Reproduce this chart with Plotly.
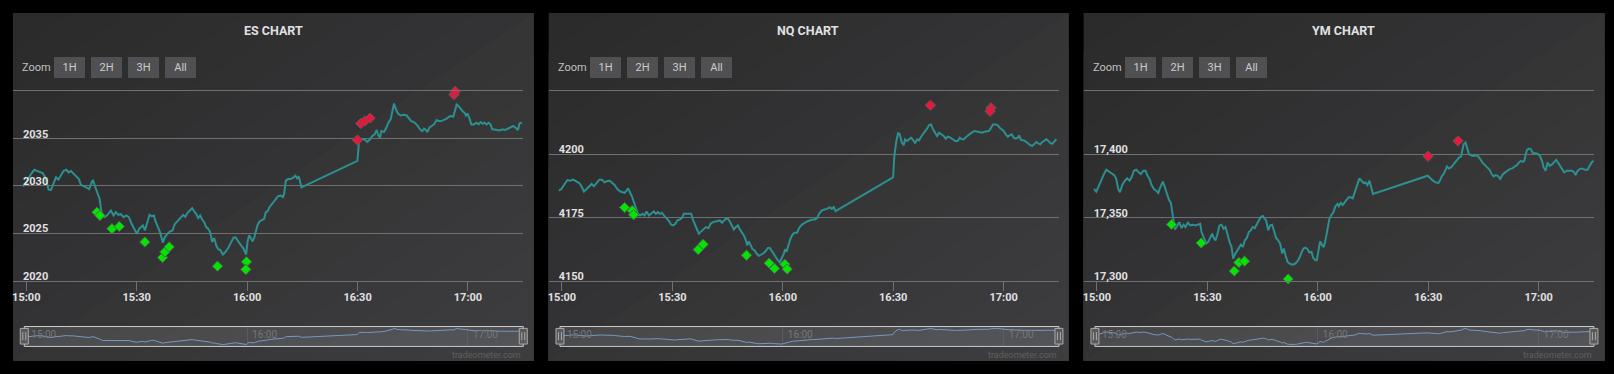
import pandas as pd
import plotly.graph_objects as go

# ---------------------------------------------------------------- data
BASE = pd.Timestamp("2015-03-20 15:00:00")   # minutes below are offsets from 15:00

titles = ["ES CHART", "NQ CHART", "YM CHART"]
zoom_buttons = ["1H", "2H", "3H", "All"]
credit_text = "tradeometer.com"

es_minutes = [
    -0.90, -0.08, 1.28, 2.18, 3.09, 4.44, 5.17, 6.07, 6.70, 7.43,
    8.07, 8.70, 9.42, 10.14, 10.87, 11.50, 12.14, 12.86, 13.58, 14.30,
    14.85, 15.75, 16.48, 17.11, 17.57, 18.11, 18.68, 19.38, 19.92, 20.28,
    20.74, 21.37, 22.09, 22.99, 23.72, 24.35, 24.98, 25.70, 26.43, 27.15,
    27.87, 28.60, 29.33, 30.05, 30.69, 31.14, 31.68, 32.23, 32.95, 33.49,
    34.04, 34.67, 35.12, 35.67, 36.39, 37.11, 37.65, 38.38, 39.10, 39.74,
    40.37, 41.28, 42.00, 42.64, 43.18, 43.81, 44.45, 45.08, 45.62, 46.16,
    46.71, 47.25, 47.79, 48.34, 48.88, 49.42, 49.97, 50.51, 51.05, 51.59,
    52.13, 52.68, 53.40, 54.12, 54.85, 55.57, 56.29, 56.84, 57.38, 57.92,
    58.47, 59.01, 59.46, 59.73, 60.10, 60.55, 61.00, 61.46, 61.91, 62.36,
    62.81, 63.36, 63.90, 64.62, 65.08, 65.53, 66.07, 66.61, 67.16, 67.70,
    68.42, 69.15, 69.69, 70.05, 70.51, 71.14, 71.86, 72.59, 73.13, 73.58,
    74.03, 74.76,
    89.96, 90.41, 90.86, 91.77, 92.67, 93.39, 94.02, 94.65, 95.20, 95.65,
    96.10, 96.47, 97.19, 97.82, 98.46, 99.00, 99.45, 99.91, 100.45, 100.99,
    101.72, 102.62, 103.35, 103.89, 104.61, 105.33, 106.24, 106.96, 107.59, 108.05,
    108.59, 108.95, 109.50, 110.13, 110.76, 111.49, 112.03, 112.75, 113.48, 114.20,
    114.84, 115.47, 116.01, 116.38, 116.92, 117.46, 118.01, 118.55, 119.09, 119.45,
    119.82, 120.36, 120.90, 121.62, 122.35, 122.89, 123.43, 123.98, 124.52, 125.06,
    125.61, 126.15, 126.60, 127.24, 127.96, 128.69, 129.41, 130.13, 130.86, 131.58,
    132.30, 132.94, 133.57, 134.02, 134.65,
]
es_prices = [
    2029.94, 2030.29, 2031.23, 2031.69, 2031.55, 2031.34, 2030.88, 2029.59, 2029.56, 2030.19,
    2030.89, 2030.64, 2031.06, 2031.58, 2031.69, 2031.41, 2031.55, 2031.31, 2030.99, 2030.71,
    2030.08, 2029.94, 2029.80, 2029.66, 2030.19, 2030.61, 2029.94, 2029.14, 2028.62, 2027.57,
    2026.70, 2026.70, 2026.94, 2027.40, 2026.87, 2027.22, 2026.94, 2027.01, 2026.70, 2026.87,
    2026.70, 2026.00, 2025.41, 2024.95, 2025.48, 2025.65, 2025.82, 2025.30, 2026.10, 2026.94,
    2026.80, 2026.87, 2026.24, 2025.65, 2025.06, 2024.01, 2024.60, 2024.95, 2025.20, 2025.30,
    2026.00, 2026.35, 2026.73, 2026.94, 2026.73, 2027.15, 2027.40, 2027.64, 2027.29, 2027.05,
    2026.59, 2026.87, 2026.45, 2026.17, 2025.65, 2025.48, 2025.13, 2024.08, 2024.50, 2023.73,
    2023.31, 2023.24, 2022.75, 2023.03, 2023.45, 2023.94, 2024.54, 2024.57, 2024.22, 2024.01,
    2023.66, 2023.38, 2023.03, 2022.75, 2024.08, 2024.78, 2024.50, 2024.15, 2024.50, 2025.13,
    2025.83, 2026.24, 2026.35, 2026.52, 2027.22, 2027.29, 2027.75, 2028.00, 2028.20, 2028.55,
    2028.90, 2028.97, 2028.80, 2029.14, 2030.54, 2030.71, 2030.71, 2030.89, 2031.06, 2030.78,
    2030.99, 2029.84,
    2032.63, 2034.72, 2034.90, 2034.90, 2034.62, 2034.90, 2035.25, 2035.43, 2035.88, 2035.32,
    2035.08, 2035.77, 2035.67, 2036.12, 2036.72, 2037.00, 2037.86, 2038.67, 2038.04, 2037.62,
    2037.41, 2037.48, 2037.41, 2037.17, 2036.82, 2036.72, 2036.37, 2035.95, 2035.77, 2036.02,
    2035.88, 2035.67, 2036.12, 2036.30, 2036.47, 2036.93, 2036.82, 2036.82, 2036.93, 2037.07,
    2037.28, 2037.35, 2037.28, 2037.86, 2038.57, 2038.39, 2038.11, 2037.86, 2037.69, 2037.41,
    2037.62, 2037.17, 2036.47, 2036.47, 2036.65, 2036.47, 2036.72, 2036.54, 2036.65, 2036.47,
    2036.65, 2036.47, 2035.95, 2035.95, 2035.88, 2035.84, 2035.95, 2035.88, 2036.02, 2036.12,
    2036.30, 2036.12, 2035.88, 2036.58, 2036.65,
]
es_buy_minutes = [19.19, 20.01, 23.27, 25.26, 32.22, 37.02, 37.65, 38.83, 51.96, 59.83, 59.65]
es_buy_prices = [2027.22, 2026.87, 2025.48, 2025.72, 2024.08, 2022.44, 2023.03, 2023.56, 2021.53, 2021.99, 2021.18]
es_sell_minutes = [89.96, 90.87, 91.95, 93.40, 116.20, 116.56]
es_sell_prices = [2034.82, 2036.57, 2036.82, 2037.13, 2039.61, 2039.95]
es_ticks = [2020, 2025, 2030, 2035, 2040]
es_tick_labels = ["2020", "2025", "2030", "2035", ""]

nq_minutes = [
    -0.81, -0.17, 0.55, 1.46, 2.18, 3.09, 3.99, 4.71, 5.44, 5.98,
    6.70, 7.43, 8.06, 8.70, 9.42, 10.14, 10.87, 11.59, 12.31, 13.04,
    13.67, 14.30, 15.03, 15.75, 16.48, 17.02, 17.56, 18.01, 18.47, 19.01,
    19.55, 20.09, 20.64, 21.18, 21.90, 22.44, 22.99, 23.62, 24.25, 24.98,
    25.52, 26.06, 26.61, 27.15, 27.70, 28.42, 29.14, 29.69, 30.23, 30.77,
    31.32, 32.04, 32.58, 33.12, 33.85, 34.57, 35.12, 35.66, 36.21, 36.75,
    37.20, 37.84, 38.56, 39.10, 39.82, 40.37, 41.09, 42.00, 42.91, 43.45,
    44.00, 44.54, 45.08, 45.62, 46.17, 46.71, 47.25, 47.80, 48.34, 48.88,
    49.43, 49.97, 50.33, 50.78, 51.24, 51.78, 52.32, 52.86, 53.49, 54.13,
    54.67, 55.30, 55.93, 56.47, 57.02, 57.56, 58.10, 58.65, 59.19, 59.73,
    60.27, 60.64, 61.00, 61.54, 62.08, 62.63, 63.17, 63.89, 64.43, 65.16,
    65.88, 66.60, 67.33, 68.05, 68.77, 69.32, 69.86, 70.59, 71.31, 72.03,
    72.76, 73.30, 73.84, 74.35,
    89.96, 90.32, 90.78, 91.32, 91.77, 92.32, 92.86, 93.22, 93.77, 94.31,
    94.86, 95.40, 95.94, 96.49, 97.03, 97.57, 98.12, 98.66, 99.19, 99.74,
    100.28, 100.82, 101.37, 101.91, 102.45, 103.00, 103.72, 104.27, 104.81, 105.53,
    106.26, 106.89, 107.52, 108.07, 108.61, 109.15, 109.88, 110.60, 111.32, 112.05,
    112.77, 113.50, 114.22, 114.77, 115.49, 116.03, 116.58, 117.12, 117.85, 118.39,
    118.93, 119.48, 120.02, 120.57, 121.11, 121.65, 122.20, 122.74, 123.29, 123.83,
    124.19, 124.73, 125.46, 126.18, 126.72, 127.27, 127.81, 128.35, 128.90, 129.44,
    129.98, 130.53, 131.07, 131.62, 132.16, 132.70, 133.24, 133.79, 134.33,
]
nq_prices = [
    4185.59, 4186.24, 4187.81, 4189.78, 4189.52, 4189.91, 4189.12, 4188.60, 4186.90, 4185.19,
    4186.24, 4187.29, 4188.21, 4187.29, 4188.60, 4189.91, 4189.91, 4188.86, 4189.38, 4189.52,
    4188.60, 4187.81, 4186.24, 4185.32, 4184.93, 4184.67, 4185.59, 4186.50, 4184.93, 4183.36,
    4181.01, 4178.65, 4176.42, 4175.77, 4176.42, 4175.77, 4177.34, 4175.77, 4176.42, 4177.34,
    4176.42, 4177.08, 4176.42, 4176.83, 4175.77, 4174.72, 4173.41, 4172.10, 4171.84, 4172.37,
    4173.80, 4174.20, 4174.72, 4176.42, 4176.42, 4176.20, 4176.42, 4173.80, 4172.10, 4170.53,
    4168.57, 4169.48, 4170.53, 4171.19, 4170.79, 4172.49, 4173.15, 4173.41, 4173.80, 4172.89,
    4173.80, 4174.46, 4174.46, 4173.41, 4171.84, 4170.27, 4171.19, 4171.84, 4170.27, 4168.96,
    4167.91, 4165.95, 4163.99, 4165.56, 4163.99, 4162.42, 4162.03, 4160.72, 4159.80, 4160.32,
    4160.72, 4161.64, 4162.95, 4162.95, 4161.64, 4160.32, 4159.41, 4158.10, 4157.19, 4158.76,
    4160.72, 4162.42, 4161.38, 4163.99, 4166.60, 4168.17, 4168.96, 4168.96, 4170.80, 4172.10,
    4172.89, 4173.41, 4173.80, 4174.20, 4174.20, 4174.72, 4176.42, 4177.73, 4178.13, 4178.39,
    4179.04, 4178.39, 4179.04, 4177.50,
    4190.83, 4199.33, 4204.57, 4208.49, 4207.84, 4204.57, 4203.52, 4205.88, 4205.22, 4205.88,
    4206.53, 4205.61, 4204.30, 4205.88, 4205.48, 4206.92, 4207.84, 4208.76, 4210.07, 4211.51,
    4211.77, 4209.80, 4208.23, 4207.19, 4208.49, 4207.84, 4207.19, 4206.14, 4206.92, 4206.53,
    4205.88, 4205.22, 4205.22, 4206.53, 4205.88, 4205.88, 4206.92, 4207.84, 4208.49, 4209.15,
    4208.89, 4208.76, 4208.49, 4208.89, 4209.15, 4209.15, 4210.46, 4211.77, 4211.77, 4211.38,
    4210.46, 4209.80, 4209.15, 4207.84, 4206.92, 4207.45, 4207.84, 4206.53, 4206.14, 4206.53,
    4207.45, 4205.61, 4205.48, 4204.83, 4204.17, 4203.52, 4203.26, 4203.91, 4204.83, 4204.30,
    4203.91, 4204.83, 4205.22, 4205.88, 4205.22, 4204.30, 4204.17, 4205.22, 4205.88,
]
nq_buy_minutes = [17.02, 19.09, 19.47, 37.02, 38.38, 50.14, 56.30, 57.75, 60.55, 61.19]
nq_buy_prices = [4178.91, 4177.73, 4176.03, 4162.29, 4164.39, 4160.07, 4156.93, 4154.83, 4156.53, 4154.57]
nq_sell_minutes = [100.10, 116.57, 116.30]
nq_sell_prices = [4219.35, 4218.30, 4216.99]
nq_ticks = [4150, 4175, 4200, 4225]
nq_tick_labels = ["4150", "4175", "4200", ""]

ym_minutes = [
    -0.81, -0.17, 0.55, 1.28, 1.91, 2.54, 3.27, 3.99, 4.71, 5.26,
    5.80, 6.25, 6.89, 7.61, 8.24, 8.87, 9.42, 10.05, 10.69, 11.41,
    11.95, 12.58, 13.22, 13.76, 14.30, 14.85, 15.48, 16.11, 16.66, 17.20,
    17.93, 18.47, 19.01, 19.55, 20.09, 20.46, 20.73, 21.18, 21.82, 22.36,
    22.99, 23.54, 24.08, 24.71, 25.35, 26.07, 26.79, 27.52, 28.06, 28.42,
    29.06, 29.69, 30.23, 30.77, 31.32, 31.77, 32.22, 32.67, 33.30, 33.85,
    34.40, 34.94, 35.48, 36.03, 36.57, 37.02, 37.48, 38.02, 38.56, 39.10,
    39.64, 40.19, 40.73, 41.27, 41.81, 42.36, 42.90, 43.45, 43.99, 44.53,
    45.08, 45.62, 45.98, 46.53, 47.07, 47.61, 48.16, 48.70, 49.24, 49.78,
    50.33, 50.78, 51.24, 51.78, 52.32, 52.86, 53.41, 53.95, 54.50, 55.04,
    55.58, 56.12, 56.67, 57.21, 57.75, 58.30, 58.75, 59.38, 59.74, 60.28,
    60.64, 61.19, 61.64, 62.09, 62.63, 63.17, 63.72, 64.26, 64.81, 65.35,
    65.71, 66.25, 66.80, 67.34, 67.88, 68.43, 68.97, 69.51, 70.05, 70.69,
    71.32, 71.86, 72.41, 72.95, 73.49, 74.04, 74.40, 75.00,
    89.87, 90.59, 91.32, 92.04, 92.77, 93.31, 93.76, 94.21, 94.67, 95.12,
    95.66, 96.20, 96.74, 97.29, 97.83, 98.37, 98.91, 99.28, 99.64, 100.18,
    100.72, 101.09, 101.63, 102.35, 103.08, 103.62, 104.16, 104.70, 105.43, 106.15,
    106.70, 107.24, 107.78, 108.33, 108.87, 109.59, 110.14, 110.68, 111.40, 112.13,
    112.85, 113.57, 114.12, 114.66, 115.20, 115.75, 116.11, 116.47, 116.84, 117.38,
    117.92, 118.47, 119.19, 119.91, 120.46, 121.00, 121.36, 121.91, 122.45, 122.99,
    123.72, 124.26, 124.80, 125.35, 125.89, 126.43, 126.98, 127.70, 128.42, 129.14,
    129.69, 130.05, 130.59, 131.14, 131.86, 132.58, 133.30, 133.85, 134.39, 134.93,
]
ym_prices = [
    17372.49, 17370.39, 17375.10, 17380.34, 17384.27, 17387.67, 17386.10, 17385.05, 17383.48, 17380.34,
    17372.49, 17369.87, 17375.63, 17379.03, 17380.86, 17379.03, 17381.65, 17386.88, 17387.67, 17385.58,
    17384.27, 17386.88, 17386.88, 17382.96, 17380.34, 17375.63, 17372.49, 17371.18, 17369.35, 17373.80,
    17378.25, 17373.80, 17368.56, 17364.11, 17361.49, 17354.16, 17347.62, 17340.55, 17343.17, 17346.31,
    17341.60, 17344.22, 17342.38, 17345.79, 17343.69, 17344.22, 17343.69, 17344.22, 17345.00, 17338.46,
    17333.74, 17329.29, 17330.60, 17333.74, 17337.15, 17333.74, 17331.91, 17335.84, 17343.69, 17344.22,
    17341.07, 17342.38, 17335.84, 17330.60, 17326.67, 17317.51, 17320.65, 17323.27, 17326.67, 17328.51,
    17326.67, 17331.91, 17333.74, 17338.46, 17339.77, 17342.38, 17341.60, 17345.00, 17347.62, 17350.24,
    17351.02, 17348.93, 17347.62, 17339.77, 17343.69, 17344.22, 17339.77, 17333.74, 17331.91, 17329.29,
    17321.44, 17325.37, 17320.13, 17314.89, 17313.59, 17312.80, 17312.80, 17313.59, 17315.42, 17318.04,
    17322.23, 17325.37, 17326.17, 17324.84, 17322.23, 17322.75, 17318.04, 17316.20, 17316.20, 17324.06,
    17331.13, 17327.98, 17326.67, 17331.91, 17339.77, 17348.93, 17352.07, 17354.16, 17358.87, 17360.70,
    17358.87, 17361.49, 17359.92, 17362.54, 17364.11, 17365.94, 17365.94, 17365.16, 17369.87, 17375.63,
    17380.86, 17379.03, 17377.20, 17377.72, 17375.63, 17379.03, 17375.10, 17368.56,
    17382.96, 17380.86, 17379.03, 17377.72, 17377.20, 17379.82, 17382.96, 17384.27, 17388.19, 17390.29,
    17388.72, 17389.50, 17391.33, 17393.43, 17394.74, 17397.36, 17398.14, 17403.90, 17407.83, 17409.14,
    17404.43, 17399.97, 17399.19, 17398.66, 17399.19, 17398.14, 17396.05, 17393.43, 17391.33, 17389.50,
    17387.67, 17384.27, 17382.43, 17383.48, 17382.96, 17380.34, 17383.48, 17385.05, 17386.88, 17388.19,
    17388.72, 17390.29, 17391.33, 17393.43, 17394.74, 17393.95, 17394.74, 17399.19, 17403.38, 17404.43,
    17403.90, 17400.76, 17400.76, 17399.97, 17398.14, 17393.95, 17389.50, 17386.88, 17393.43, 17390.81,
    17392.12, 17393.95, 17395.52, 17392.90, 17390.29, 17388.19, 17385.58, 17386.88, 17386.88, 17386.88,
    17385.58, 17383.48, 17386.88, 17388.19, 17388.72, 17387.67, 17387.67, 17390.29, 17393.43, 17394.74,
]
ym_buy_minutes = [20.27, 28.33, 37.30, 38.56, 40.10, 51.95]
ym_buy_prices = [17344.48, 17329.82, 17307.57, 17314.37, 17315.42, 17301.28]
ym_sell_minutes = [89.96, 98.11]
ym_sell_prices = [17398.40, 17410.44]
ym_ticks = [17300, 17350, 17400, 17450]
ym_tick_labels = ["17,300", "17,350", "17,400", ""]

# ---------------------------------------------------------------- style / geometry
FIG_W, FIG_H = 1614, 374
FONT = "Roboto, Liberation Sans, sans-serif"
LINE_COLOR = "#2b908f"
BUY_COLOR = "#00e600"
SELL_COLOR = "#e6193c"
GRID_COLOR = "#707073"
TEXT_COLOR = "#E0E0E3"
BG_START, BG_END = (0x2a, 0x2a, 0x2b), (0x3e, 0x3e, 0x40)

PANEL_LEFT = [12.0, 548.0, 1083.3]
PANEL_WIDTH = [520.7, 520.0, 521.0]
PANEL_TOP, PANEL_BOTTOM = 13.0, 362.7
PLOT_W = 510.6
MAIN_TOP, MAIN_BOTTOM = 91.3, 282.3
NAV_TOP, NAV_BOTTOM = 328.3, 348.3
NAV_LEFT_OFF = 11.3
T0_OFF = 13.3            # pixel offset of 15:00 from the panel's left edge
PX_PER_MIN = 3.683


def px(x):
    return x / FIG_W


def py(y):
    return 1 - y / FIG_H


def to_time(minutes):
    return BASE + pd.to_timedelta(minutes, unit="min")


def tstr(minutes):
    return to_time(minutes).strftime("%Y-%m-%d %H:%M:%S.%f")


def band_poly(t0):
    sq = [(0, 0), (1, 0), (1, 1), (0, 1)]
    out = []
    for k in range(4):
        P, Q = sq[k], sq[(k + 1) % 4]
        fp = P[0] + P[1] - 2 * t0
        fq = Q[0] + Q[1] - 2 * t0
        if fp >= 0:
            out.append(P)
        if (fp >= 0) != (fq >= 0):
            s = fp / (fp - fq)
            out.append((P[0] + s * (Q[0] - P[0]), P[1] + s * (Q[1] - P[1])))
    return out


panels = [
    dict(title=titles[0], m=es_minutes, v=es_prices, bm=es_buy_minutes, bv=es_buy_prices,
         sm=es_sell_minutes, sv=es_sell_prices, ticks=es_ticks, labels=es_tick_labels),
    dict(title=titles[1], m=nq_minutes, v=nq_prices, bm=nq_buy_minutes, bv=nq_buy_prices,
         sm=nq_sell_minutes, sv=nq_sell_prices, ticks=nq_ticks, labels=nq_tick_labels),
    dict(title=titles[2], m=ym_minutes, v=ym_prices, bm=ym_buy_minutes, bv=ym_buy_prices,
         sm=ym_sell_minutes, sv=ym_sell_prices, ticks=ym_ticks, labels=ym_tick_labels),
]

fig = go.Figure()
layout_axes = {}
shapes = []
annotations = []

for i, p in enumerate(panels):
    L, W = PANEL_LEFT[i], PANEL_WIDTH[i]
    k_main, k_nav, k_lab = 2 * i + 1, 2 * i + 2, 7 + i
    xm = "x" if k_main == 1 else f"x{k_main}"
    ym = "y" if k_main == 1 else f"y{k_main}"
    xn, yn = f"x{k_nav}", f"y{k_nav}"
    yl = f"y{k_lab}"

    # ---- panel background (diagonal gradient approximated by nested bands)
    N = 18
    for b in range(N):
        f = (b + 0.5) / N
        col = "rgb(%d,%d,%d)" % tuple(round(BG_START[c] + f * (BG_END[c] - BG_START[c])) for c in range(3))
        poly = band_poly(b / N)
        path = "M " + " L ".join(
            "%.6f,%.6f" % (px(L + u * W), py(PANEL_TOP + v * (PANEL_BOTTOM - PANEL_TOP))) for u, v in poly
        ) + " Z"
        shapes.append(dict(type="path", path=path, xref="paper", yref="paper",
                           fillcolor=col, line=dict(width=0), layer="below"))

    # ---- navigator mask / outline
    shapes.append(dict(type="rect", xref="paper", yref="paper",
                       x0=px(L + NAV_LEFT_OFF), x1=px(L + PLOT_W), y0=py(NAV_BOTTOM), y1=py(NAV_TOP),
                       fillcolor="rgba(255,255,255,0.10)", line=dict(color="#CCCCCC", width=1), layer="below"))
    for cx in (L + NAV_LEFT_OFF, L + PLOT_W):
        shapes.append(dict(type="rect", xref="paper", yref="paper",
                           x0=px(cx - 4), x1=px(cx + 4), y0=py(345.9), y1=py(330.2),
                           fillcolor="#5a5a5c", line=dict(color="#AAAAAA", width=1), layer="above"))
        for dx in (-1.5, 1.5):
            shapes.append(dict(type="line", xref="paper", yref="paper",
                               x0=px(cx + dx), x1=px(cx + dx), y0=py(342), y1=py(334),
                               line=dict(color="#AAAAAA", width=1), layer="above"))

    # ---- traces
    fig.add_trace(go.Scatter(x=to_time(p["m"]), y=p["v"], mode="lines",
                             line=dict(color=LINE_COLOR, width=2), xaxis=xm, yaxis=ym,
                             hoverinfo="x+y", name=p["title"]))
    fig.add_trace(go.Scatter(x=to_time(p["bm"]), y=p["bv"], mode="markers",
                             marker=dict(symbol="diamond", size=8, color=BUY_COLOR,
                                         line=dict(color="rgba(90,90,90,0.9)", width=1)),
                             xaxis=xm, yaxis=ym, cliponaxis=False, name="Buy"))
    fig.add_trace(go.Scatter(x=to_time(p["sm"]), y=p["sv"], mode="markers",
                             marker=dict(symbol="diamond", size=8, color=SELL_COLOR,
                                         line=dict(color="rgba(90,90,90,0.9)", width=1)),
                             xaxis=xm, yaxis=ym, cliponaxis=False, name="Sell"))
    fig.add_trace(go.Scatter(x=to_time(p["m"]), y=p["v"], mode="lines",
                             line=dict(color="#7798BF", width=1), fill="tozeroy",
                             fillcolor="rgba(119,152,191,0.06)", xaxis=xn, yaxis=yn,
                             hoverinfo="skip", name="navigator"))
    # empty trace so that the price-label axis has a subplot of its own
    fig.add_trace(go.Scatter(x=[], y=[], mode="lines", xaxis=xm, yaxis=yl,
                             hoverinfo="skip", showlegend=False))

    # ---- axes
    span = max(p["ticks"]) - min(p["ticks"])
    eps = span * 0.0006
    yrange = [min(p["ticks"]) - eps, max(p["ticks"]) + eps]
    layout_axes["xaxis" if k_main == 1 else f"xaxis{k_main}"] = dict(
        domain=[px(L), px(L + PLOT_W)], anchor=ym, type="date",
        range=[tstr(-T0_OFF / PX_PER_MIN), tstr((PLOT_W - T0_OFF) / PX_PER_MIN)],
        tickformat="%H:%M", dtick=30 * 60 * 1000, tick0=str(BASE),
        ticks="outside", ticklen=9, tickwidth=1, tickcolor=GRID_COLOR,
        showgrid=False, zeroline=False, showline=True, mirror=True,
        linecolor=GRID_COLOR, linewidth=1, ticklabelstandoff=-3, ticklabeloverflow="allow",
        tickfont=dict(family=FONT, size=11, color=TEXT_COLOR, weight="bold"), fixedrange=True)
    # grid-only price axis
    layout_axes["yaxis" if k_main == 1 else f"yaxis{k_main}"] = dict(
        domain=[py(MAIN_BOTTOM), py(MAIN_TOP)], anchor=xm, range=yrange,
        tickmode="array", tickvals=p["ticks"], showticklabels=False, ticks="",
        showgrid=True, gridcolor=GRID_COLOR, gridwidth=1, zeroline=False, showline=False,
        fixedrange=True)
    # label-only price axis, drawn over the same area
    layout_axes[f"yaxis{k_lab}"] = dict(
        overlaying=ym, anchor="free", position=px(L), side="left", range=yrange,
        tickmode="array", tickvals=p["ticks"], ticktext=p["labels"],
        ticklabelposition="inside top", ticks="", showgrid=False, zeroline=False, showline=False,
        tickfont=dict(family=FONT, size=11, color=TEXT_COLOR, weight="bold"),
        ticklabelstandoff=6, ticklabelshift=3, ticklabeloverflow="allow", fixedrange=True)
    vmin, vmax = min(p["v"]), max(p["v"])
    pad = (vmax - vmin) * 0.12
    layout_axes[f"xaxis{k_nav}"] = dict(
        domain=[px(L + NAV_LEFT_OFF), px(L + PLOT_W)], anchor=yn, type="date",
        range=[tstr((NAV_LEFT_OFF - T0_OFF) / PX_PER_MIN), tstr((PLOT_W - T0_OFF) / PX_PER_MIN)],
        tickformat="%H:%M", dtick=60 * 60 * 1000, tick0=str(BASE), ticks="",
        showgrid=True, gridcolor="#5a5a5d", gridwidth=1, zeroline=False, showline=False,
        ticklabelposition="inside right", ticklabelshift=5,
        tickfont=dict(family=FONT, size=10, color="#777777"), fixedrange=True)
    layout_axes[f"yaxis{k_nav}"] = dict(
        domain=[py(NAV_BOTTOM), py(NAV_TOP)], anchor=xn, range=[vmin - pad, vmax + pad],
        showgrid=False, showticklabels=False, zeroline=False, ticks="", fixedrange=True)

    # ---- texts
    annotations.append(dict(text=p["title"], x=px(L + W / 2), y=py(31), xref="paper", yref="paper",
                            xanchor="center", yanchor="middle", showarrow=False,
                            font=dict(family=FONT, size=12.5, color=TEXT_COLOR, weight="bold")))
    annotations.append(dict(text="Zoom", x=px(L + 7), y=py(68), xref="paper", yref="paper",
                            xanchor="left", yanchor="middle", showarrow=False,
                            font=dict(family=FONT, size=11, color="#C0C0C0")))
    for j, lab in enumerate(zoom_buttons):
        annotations.append(dict(text=lab, x=px(L + 41 + 37 * j), y=py(57), xref="paper", yref="paper",
                                xanchor="left", yanchor="top", showarrow=False,
                                width=31, height=21, borderpad=0, borderwidth=0,
                                bgcolor="#505053", align="center", valign="middle",
                                font=dict(family=FONT, size=11, color="#CCCCCC")))
    annotations.append(dict(text=credit_text, x=px(L + PLOT_W), y=py(356.5), xref="paper", yref="paper",
                            xanchor="right", yanchor="middle", showarrow=False,
                            font=dict(family=FONT, size=9, color="#5e5e60")))

fig.update_layout(
    width=FIG_W, height=FIG_H, margin=dict(l=0, r=0, t=0, b=0, pad=0),
    paper_bgcolor="#000000", plot_bgcolor="rgba(0,0,0,0)", showlegend=False,
    shapes=shapes, annotations=annotations, hovermode="closest",
    **layout_axes,
)

PAGE_STYLE_JS = (
    "document.documentElement.style.margin='0';"
    "document.body.style.margin='0';document.body.style.padding='0';"
    "document.body.style.background='#000000';document.body.style.overflow='hidden';"
)
fig.write_html("out.html", config={"displayModeBar": False}, post_script=PAGE_STYLE_JS)
